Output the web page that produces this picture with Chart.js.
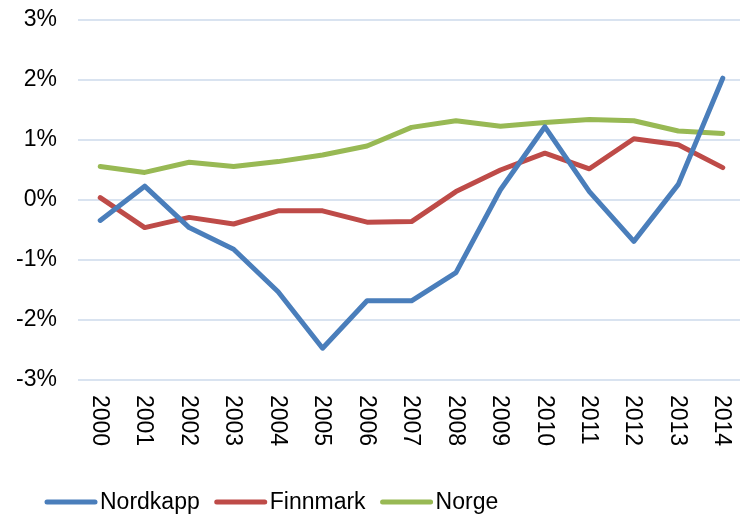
<!DOCTYPE html>
<html>
<head>
<meta charset="utf-8">
<script src="https://cdn.jsdelivr.net/npm/chart.js@4"></script>
<style>
  html, body { margin: 0; padding: 0; background: #fff; overflow: hidden; }
  #wrap { width: 740px; height: 514px; overflow: hidden; }
</style>
</head>
<body>
<div id="wrap"><canvas id="growthChart" width="745" height="514"></canvas></div>
<script>
const years = ['2000', '2001', '2002', '2003', '2004', '2005', '2006', '2007',
  '2008', '2009', '2010', '2011', '2012', '2013', '2014'];
const nordkapp = [-0.34, 0.23, -0.46, -0.82, -1.53, -2.47, -1.68, -1.68,
  -1.21, 0.17, 1.22, 0.14, -0.69, 0.26, 2.03];
const finnmark = [0.04, -0.46, -0.29, -0.40, -0.18, -0.18, -0.37, -0.36,
  0.14, 0.50, 0.78, 0.52, 1.02, 0.92, 0.54];
const norge = [0.56, 0.46, 0.63, 0.56, 0.64, 0.75, 0.90, 1.21,
  1.32, 1.23, 1.29, 1.34, 1.32, 1.15, 1.11];
const yTicks = [-3, -2, -1, 0, 1, 2, 3];

const FONT = "'Liberation Sans', Arial, sans-serif";

// x labels rotated clockwise + bottom legend, drawn by hand
const customLabels = {
  id: 'customLabels',
  afterDraw(chart) {
    const ctx = chart.ctx;
    const xScale = chart.scales.x;
    ctx.save();
    ctx.fillStyle = '#000';
    ctx.font = '23px ' + FONT;
    ctx.textAlign = 'left';
    ctx.textBaseline = 'middle';
    years.forEach((label, i) => {
      const x = xScale.getPixelForTick(i);
      ctx.save();
      ctx.translate(x - 1, 395);
      ctx.rotate(Math.PI / 2);
      ctx.fillText(label, 0, 0);
      ctx.restore();
    });

    // legend
    let x = 45;
    const y = 502;
    chart.data.datasets.forEach(ds => {
      ctx.strokeStyle = ds.borderColor;
      ctx.lineWidth = 5;
      ctx.lineCap = 'round';
      ctx.beginPath();
      ctx.moveTo(x + 2, y);
      ctx.lineTo(x + 50, y);
      ctx.stroke();
      ctx.fillStyle = '#000';
      ctx.textBaseline = 'alphabetic';
      ctx.fillText(ds.label, x + 55, 509);
      x += 55 + ctx.measureText(ds.label).width + 15;
    });
    ctx.restore();
  }
};

const lineStyle = { borderWidth: 5, pointRadius: 0, tension: 0, fill: false,
  borderCapStyle: 'round', borderJoinStyle: 'round' };

new Chart(document.getElementById('growthChart'), {
  type: 'line',
  data: {
    labels: years,
    datasets: [
      Object.assign({ label: 'Nordkapp', data: nordkapp, borderColor: '#4a7ebb' }, lineStyle),
      Object.assign({ label: 'Finnmark', data: finnmark, borderColor: '#be4b48' }, lineStyle),
      Object.assign({ label: 'Norge', data: norge, borderColor: '#98b954' }, lineStyle)
    ]
  },
  options: {
    responsive: false,
    animation: false,
    layout: { padding: { top: 20, right: 0, bottom: 0, left: 0 } },
    plugins: {
      legend: { display: false },
      tooltip: { enabled: false }
    },
    scales: {
      x: {
        offset: true,
        grid: { display: false, drawTicks: false },
        border: { display: false },
        ticks: { display: false },
        afterFit(scale) { scale.height = 134; }
      },
      y: {
        min: yTicks[0],
        max: yTicks[yTicks.length - 1],
        afterBuildTicks(scale) { scale.ticks = yTicks.map(v => ({ value: v })); },
        grid: { color: '#d9e3f0', lineWidth: 2, drawTicks: false },
        border: { display: false },
        ticks: {
          padding: 21,
          color: '#000',
          font: { family: FONT, size: 23 },
          callback: v => v + '%'
        },
        afterFit(scale) {
          scale.width = 78;
          scale.paddingTop = 0;
          scale.paddingBottom = 0;
        }
      }
    }
  },
  plugins: [customLabels]
});
</script>
</body>
</html>
